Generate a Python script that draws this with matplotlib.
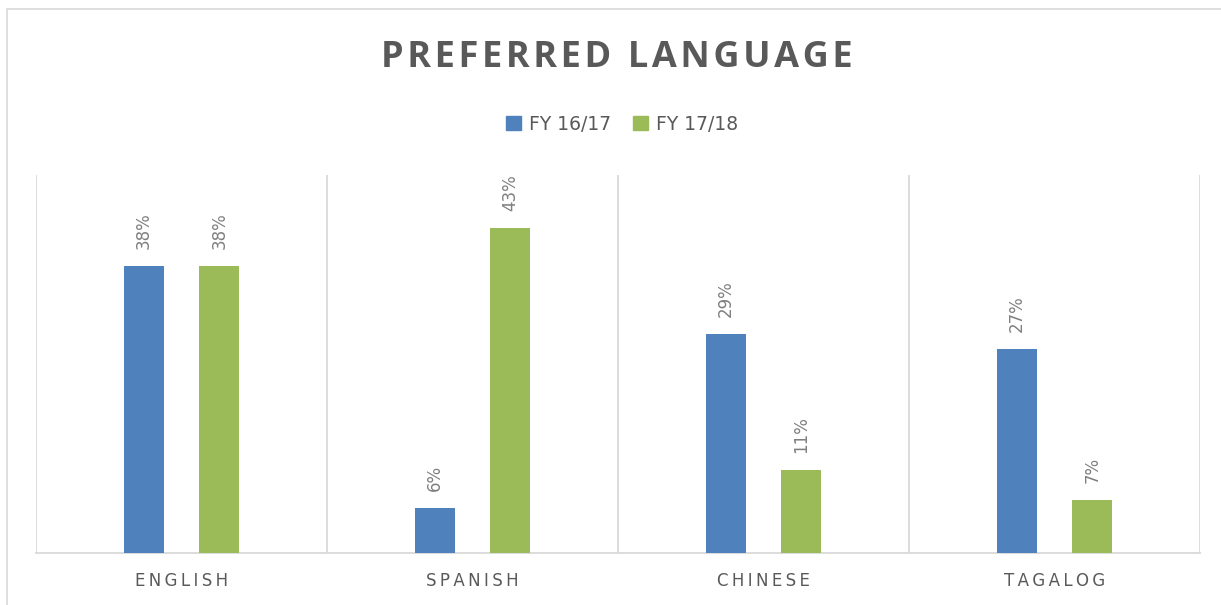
import matplotlib
matplotlib.use("Agg")
import matplotlib.pyplot as plt
import numpy as np
from matplotlib.patches import Rectangle, Patch

categories = ["ENGLISH", "SPANISH", "CHINESE", "TAGALOG"]
series_names = ["FY 16/17", "FY 17/18"]
fy1617 = [38, 6, 29, 27]
fy1718 = [38, 43, 11, 7]
colors = ["#4F81BD", "#9BBB59"]
title = "PREFERRED LANGUAGE"

W, H = 1221, 605
fig = plt.figure(figsize=(W / 100, H / 100), dpi=100)
ax = fig.add_axes([36 / W, (H - 553) / H, (1200 - 36) / W, (553 - 175) / H])

# outer chart border (left and top edges visible)
fig.add_artist(Rectangle((7 / W, -0.1), 1.2, 1.1 - 9 / H, transform=fig.transFigure,
                         fill=False, edgecolor="#d9d9d9", linewidth=1.2))


def spaced(s, sep):
    return sep.join(s)


x = np.arange(len(categories))
offset = 0.13
width = 0.137
grey = "#595959"
for vals, col, dx in [(fy1617, colors[0], -offset), (fy1718, colors[1], offset)]:
    bars = ax.bar(x + dx, vals, width, color=col, zorder=3)
    for b, v in zip(bars, vals):
        ax.annotate(f"{v}%", (b.get_x() + b.get_width() / 2, v),
                    xytext=(0, 12), textcoords="offset points",
                    rotation=90, ha="center", va="bottom",
                    fontsize=12, color="#7f7f7f")

ax.set_xlim(-0.5, len(categories) - 0.5)
ax.set_ylim(0, 50)
ax.vlines(np.arange(len(categories) + 1) - 0.5, 0, 50, colors="#d9d9d9", linewidth=1.3, zorder=1)
for s in ["top", "right", "left"]:
    ax.spines[s].set_visible(False)
ax.spines["bottom"].set_color("#d9d9d9")
ax.spines["bottom"].set_linewidth(1.3)
ax.set_yticks([])
ax.set_xticks(x)
ax.set_xticklabels([spaced(c, "\u2009") for c in categories], fontsize=12, color=grey)
ax.tick_params(axis="x", length=0, pad=14)

fig.text(617 / W, 1 - 58 / H, spaced(title, "\u200a"), ha="center", va="center",
         fontsize=26, fontweight="bold", color=grey, family=["Open Sans", "DejaVu Sans"])

handles = [Patch(color=c) for c in colors]
fig.legend(handles, series_names, loc="center", bbox_to_anchor=(622 / W, 1 - 124 / H),
           ncol=2, frameon=False, fontsize=13.5, labelcolor=grey,
           handlelength=0.8, handleheight=0.8, handletextpad=0.4, columnspacing=1.2)

fig.savefig("out.png", dpi=100)
